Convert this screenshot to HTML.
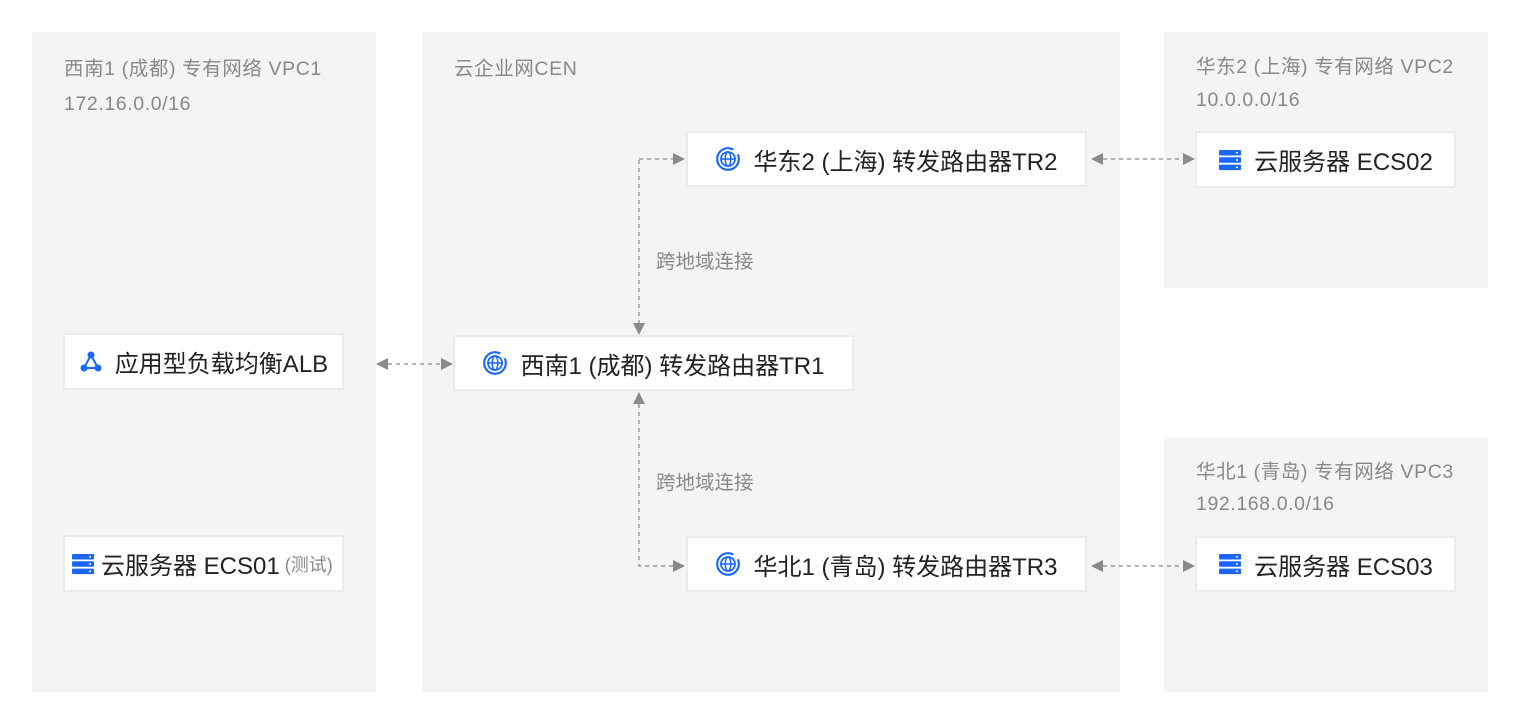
<!DOCTYPE html>
<html><head><meta charset="utf-8"><style>
body{margin:0;width:1520px;height:724px;background:#fff;position:relative;font-family:"Liberation Sans","Noto Sans CJK SC",sans-serif;overflow:hidden}
.p{position:absolute;background:#f4f4f6}
.t{position:absolute;color:#888;font-size:19.5px;line-height:22px;white-space:nowrap;letter-spacing:0.6px}
.b{position:absolute;background:#fff;border:2px solid #ebebed;box-sizing:border-box;display:flex;align-items:center;justify-content:center;font-size:24px;color:#222;white-space:nowrap}
.b svg{margin-right:12px}
</style></head><body>
<div class="p" style="left:32px;top:32px;width:344px;height:660px"></div>
<div class="p" style="left:422px;top:32px;width:698px;height:660px"></div>
<div class="p" style="left:1164px;top:32px;width:324px;height:256px"></div>
<div class="p" style="left:1164px;top:437px;width:324px;height:255px"></div>
<div class="t" style="left:64px;top:58px">西南1 (成都) 专有网络 VPC1</div>
<div class="t" style="left:64px;top:93px">172.16.0.0/16</div>
<div class="t" style="left:454px;top:58px">云企业网CEN</div>
<div class="t" style="left:1196px;top:56px">华东2 (上海) 专有网络 VPC2</div>
<div class="t" style="left:1196px;top:89px">10.0.0.0/16</div>
<div class="t" style="left:1196px;top:461px">华北1 (青岛) 专有网络 VPC3</div>
<div class="t" style="left:1196px;top:493px">192.168.0.0/16</div>
<div class="t" style="left:656px;top:251px;letter-spacing:0">跨地域连接</div>
<div class="t" style="left:656px;top:472px;letter-spacing:0">跨地域连接</div>
<svg width="0" height="0" style="position:absolute"><defs>
<symbol id="g" viewBox="0 0 24 24"><circle cx="12" cy="12" r="10" fill="none" stroke="#1a66ff" stroke-width="2" stroke-dasharray="52 6"/><circle cx="12" cy="12" r="6.5" fill="none" stroke="#1a66ff" stroke-width="1.6"/><ellipse cx="12" cy="12" rx="2.6" ry="6.5" fill="none" stroke="#1a66ff" stroke-width="1.4"/><line x1="5.5" y1="12" x2="18.5" y2="12" stroke="#1a66ff" stroke-width="1.4"/></symbol>
<symbol id="s" viewBox="0 0 24 24"><rect x="1" y="2" width="22" height="5.5" rx="1" fill="#1a66ff"/><rect x="1" y="9.3" width="22" height="5.5" rx="1" fill="#1a66ff"/><rect x="1" y="16.6" width="22" height="5.5" rx="1" fill="#1a66ff"/><circle cx="19" cy="4.7" r="1" fill="#fff"/><circle cx="19" cy="12" r="1" fill="#fff"/><circle cx="19" cy="19.3" r="1" fill="#fff"/></symbol>
</defs></svg>
<div class="b" style="left:63px;top:333px;width:281px;height:57px"><svg width="24" height="24" viewBox="0 0 24 24"><path d="M12 5L5 18H19Z" fill="none" stroke="#1a66ff" stroke-width="2"/><circle cx="12" cy="5" r="3.5" fill="#1a66ff"/><circle cx="5" cy="18" r="3.5" fill="#1a66ff"/><circle cx="19" cy="18" r="3.5" fill="#1a66ff"/></svg>应用型负载均衡ALB</div>
<div class="b" style="left:63px;top:535px;width:281px;height:57px;justify-content:flex-start;padding-left:6px"><svg width="24" height="24" style="margin-right:6px"><use href="#s"/></svg>云服务器 ECS01<span style="font-size:18px;color:#888;margin-left:5px">(测试)</span></div>
<div class="b" style="left:453px;top:335px;width:401px;height:56px"><svg width="26" height="26"><use href="#g"/></svg>西南1 (成都) 转发路由器TR1</div>
<div class="b" style="left:686px;top:131px;width:401px;height:56px"><svg width="26" height="26"><use href="#g"/></svg>华东2 (上海) 转发路由器TR2</div>
<div class="b" style="left:686px;top:536px;width:401px;height:56px"><svg width="26" height="26"><use href="#g"/></svg>华北1 (青岛) 转发路由器TR3</div>
<div class="b" style="left:1195px;top:131px;width:261px;height:57px"><svg width="24" height="24"><use href="#s"/></svg>云服务器 ECS02</div>
<div class="b" style="left:1195px;top:536px;width:261px;height:56px"><svg width="24" height="24"><use href="#s"/></svg>云服务器 ECS03</div>
<svg width="1520" height="724" style="position:absolute;left:0;top:0" fill="#8a8a8a">
<g stroke="#999" stroke-width="1.5" stroke-dasharray="4 4" fill="none">
<path d="M388 364H441"/><path d="M639 160V323"/><path d="M639 159H673"/><path d="M639 404V566H673"/>
<path d="M1103 159H1183"/><path d="M1103 566H1183"/></g>
<path d="M376 364l12-6v12z"/><path d="M453 364l-12-6v12z"/>
<path d="M633 323h12l-6 12z"/><path d="M633 404h12l-6-12z"/>
<path d="M685 159l-12-6v12z"/><path d="M685 566l-12-6v12z"/>
<path d="M1091 159l12-6v12z"/><path d="M1195 159l-12-6v12z"/>
<path d="M1091 566l12-6v12z"/><path d="M1195 566l-12-6v12z"/>
</svg>
</body></html>
